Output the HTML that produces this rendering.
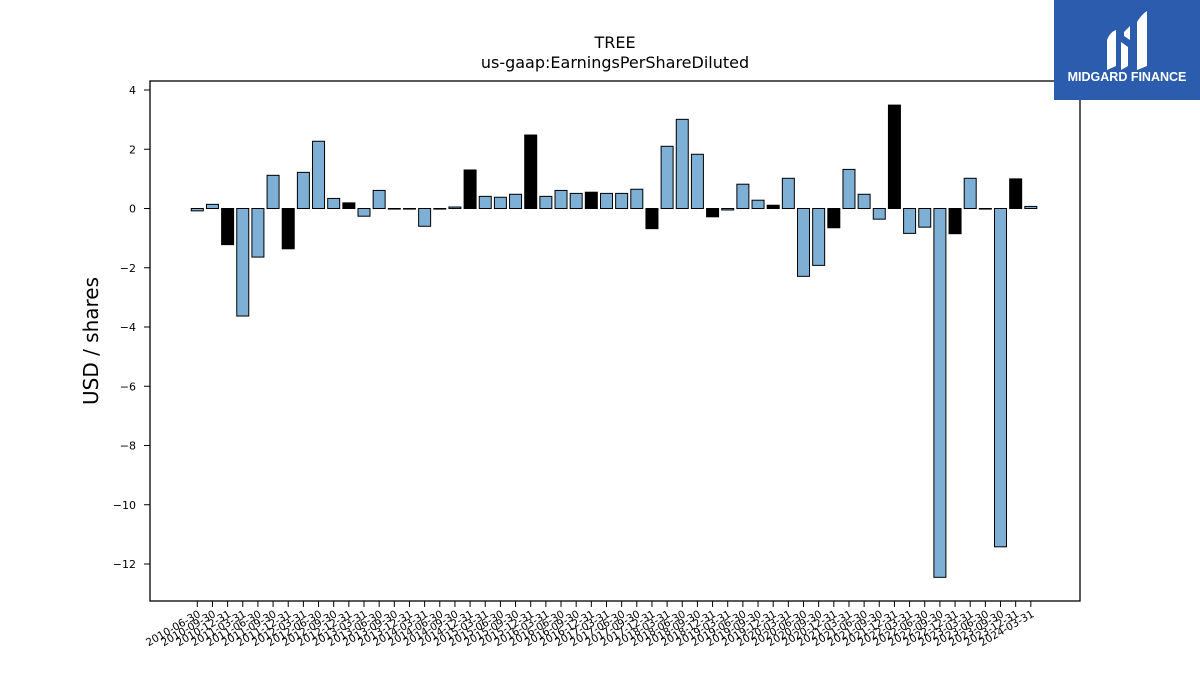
<!DOCTYPE html>
<html><head><meta charset="utf-8"><style>
body{margin:0;background:#fff;}
svg{display:block;font-family:"DejaVu Sans","Liberation Sans",sans-serif;}
</style></head><body>
<svg id="chart" width="1200" height="675" xmlns="http://www.w3.org/2000/svg">
<rect width="1200" height="675" fill="#fff"/>
<text x="615" y="48" text-anchor="middle" font-size="16">TREE</text>
<text x="615" y="68" text-anchor="middle" font-size="16">us-gaap:EarningsPerShareDiluted</text>
<text transform="translate(98,341) rotate(-90)" text-anchor="middle" font-size="20">USD / shares</text>
<g id="bars"></g>
<g id="yaxis"></g>
<g id="xaxis"></g>
<rect x="150" y="81" width="930" height="520" fill="none" stroke="#000" stroke-width="1.3"/>
<g>
<rect x="1054" y="0" width="146" height="100" fill="#2b5cad"/>
<path d="M1107 70 L1107 40 Q1110 32 1116 30 L1116 66 Z" fill="#fff"/>
<path d="M1121 70 L1121 42 L1128 47 L1128 66 Z M1124 32 L1130 26 L1130 40 L1124 36 Z" fill="#fff"/>
<path d="M1137 70 L1137 22 Q1142 14 1147 11 L1147 66 Z" fill="#fff"/>
<text x="1127" y="81" text-anchor="middle" font-size="12.5" font-weight="bold" fill="#fff" font-family="Liberation Sans, sans-serif">MIDGARD FINANCE</text>
</g>
</svg>
<script>
const categories = [];
for (let y = 2010; y <= 2024; y++) for (const q of ["03-31","06-30","09-30","12-31"]) {
  const d = y + "-" + q;
  if (d >= "2010-06-30" && d <= "2024-03-31") categories.push(d);
}
const values = [-0.08,0.14,-1.22,-3.63,-1.64,1.12,-1.36,1.22,2.27,0.34,0.19,-0.26,0.61,-0.02,-0.02,-0.6,-0.02,0.05,1.3,0.41,0.38,0.48,2.48,0.41,0.61,0.51,0.55,0.51,0.51,0.65,-0.68,2.1,3.01,1.83,-0.28,-0.05,0.82,0.28,0.11,1.02,-2.29,-1.92,-0.65,1.32,0.48,-0.36,3.49,-0.84,-0.63,-12.45,-0.85,1.02,-0.02,-11.42,1.0,0.07];
const yTicks = [4,2,0,-2,-4,-6,-8,-10,-12];
const NS = "http://www.w3.org/2000/svg";
const yScale = v => 208.5 - v * 29.625;
const xScale = i => 197.3 + i * 15.155;
const bw = 12;
const bars = document.getElementById("bars");
values.forEach((v, i) => {
  const r = document.createElementNS(NS, "rect");
  const y0 = yScale(0), y1 = yScale(v);
  r.setAttribute("x", xScale(i) - bw / 2);
  r.setAttribute("y", Math.min(y0, y1));
  r.setAttribute("width", bw);
  r.setAttribute("height", Math.max(Math.abs(y1 - y0), 0.5));
  r.setAttribute("fill", categories[i].endsWith("12-31") ? "#000" : "#7eb0d5");
  r.setAttribute("stroke", "#000");
  r.setAttribute("stroke-width", "1");
  
  
  bars.appendChild(r);
});
const ya = document.getElementById("yaxis");
yTicks.forEach(t => {
  const y = yScale(t);
  const l = document.createElementNS(NS, "line");
  l.setAttribute("x1", 144); l.setAttribute("x2", 150);
  l.setAttribute("y1", y); l.setAttribute("y2", y);
  l.setAttribute("stroke", "#000");
  
  
  ya.appendChild(l);
  const tx = document.createElementNS(NS, "text");
  tx.setAttribute("x", 136); tx.setAttribute("y", y + 4);
  tx.setAttribute("text-anchor", "end"); tx.setAttribute("font-size", "11");
  tx.textContent = t < 0 ? "\u2212" + Math.abs(t) : String(t);
  
  
  ya.appendChild(tx);
});
const xa = document.getElementById("xaxis");
categories.forEach((c, i) => {
  const x = xScale(i);
  const l = document.createElementNS(NS, "line");
  l.setAttribute("x1", x); l.setAttribute("x2", x);
  l.setAttribute("y1", 601); l.setAttribute("y2", 607);
  l.setAttribute("stroke", "#000");
  
  
  xa.appendChild(l);
  const tx = document.createElementNS(NS, "text");
  tx.setAttribute("transform", "translate(" + (x + 4) + ",616) rotate(-30)");
  tx.setAttribute("text-anchor", "end"); tx.setAttribute("font-size", "10.5");
  tx.textContent = c;
  
  
  xa.appendChild(tx);
});
</script>
</body></html>
